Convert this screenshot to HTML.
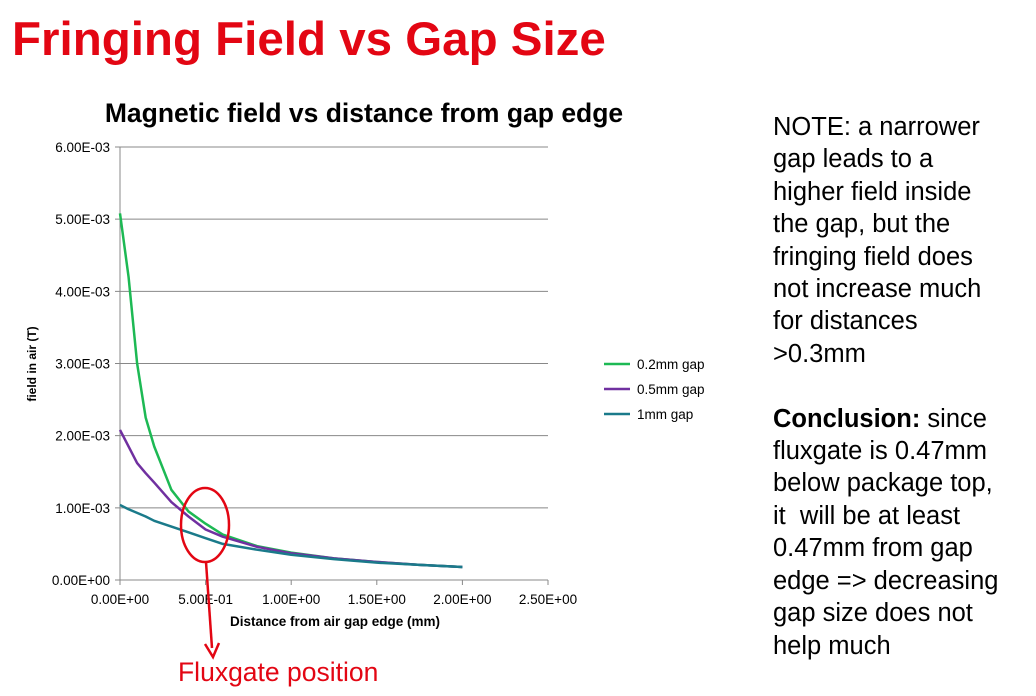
<!DOCTYPE html>
<html><head><meta charset="utf-8"><style>
body{margin:0;width:1036px;height:696px;background:#fff;overflow:hidden;font-family:"Liberation Sans",Arial,sans-serif;position:relative}
#h{position:absolute;left:12px;top:12px;font-size:47.5px;font-weight:bold;color:#e30613;margin:0}
#note{position:absolute;left:773px;top:111px;font-size:25.5px;line-height:32.4px;color:#000;width:262px;white-space:nowrap}
</style></head><body>
<h1 id="h">Fringing Field vs Gap Size</h1>
<svg id="c" width="1036" height="696" style="position:absolute;left:0;top:0"></svg>
<div id="note">NOTE: a narrower<br>gap leads to a<br>higher field inside<br>the gap, but the<br>fringing field does<br>not increase much<br>for distances<br>&gt;0.3mm<br><br><b>Conclusion:</b> since<br>fluxgate is 0.47mm<br>below package top,<br>it&nbsp; will be at least<br>0.47mm from gap<br>edge =&gt; decreasing<br>gap size does not<br>help much</div>
<script>
const xs=[0,0.05,0.1,0.15,0.2,0.3,0.4,0.5,0.6,0.8,1.0,1.25,1.5,1.75,2.0];
const g02=[5.08,4.2,3.0,2.25,1.85,1.25,0.95,0.78,0.63,0.47,0.38,0.3,0.25,0.21,0.18];
const g05=[2.08,1.85,1.62,1.48,1.35,1.08,0.88,0.7,0.6,0.46,0.37,0.3,0.25,0.21,0.18];
const g1=[1.04,0.98,0.93,0.88,0.82,0.74,0.66,0.58,0.5,0.42,0.35,0.29,0.24,0.21,0.18];
const xTicks=["0.00E+00","5.00E-01","1.00E+00","1.50E+00","2.00E+00","2.50E+00"];
const yTicks=["0.00E+00","1.00E-03","2.00E-03","3.00E-03","4.00E-03","5.00E-03","6.00E-03"];
const names=["0.2mm gap","0.5mm gap","1mm gap"];
const colors=["#1db954","#7030a0","#1a7a8a"];
const svg=document.getElementById('c');const NS="http://www.w3.org/2000/svg";
function el(t,a,txt){const e=document.createElementNS(NS,t);for(const k in a)e.setAttribute(k,a[k]);if(txt!=null)e.textContent=txt;svg.appendChild(e);return e;}
const X=v=>120+v*171.2, Y=v=>580-v*72.17;
yTicks.forEach((t,i)=>{const y=Y(i);
 const l=el('line',{x1:115,x2:548,y1:y,y2:y,stroke:'#888','stroke-width':1});
 
 const tx=el('text',{x:110,y:y+5,'font-size':13.5,'text-anchor':'end',fill:'#000'},t);
 });
el('line',{x1:120,x2:120,y1:147,y2:580,stroke:'#888'});
xTicks.forEach((t,i)=>{const x=X(i*0.5);
 const l=el('line',{x1:x,x2:x,y1:580,y2:585,stroke:'#888'});
 
 const tx=el('text',{x:x,y:604,'font-size':13.5,'text-anchor':'middle',fill:'#000'},t);
 });
[g02,g05,g1].forEach((s,k)=>{
 const p=el('polyline',{points:s.map((v,i)=>X(xs[i])+','+Y(v)).join(' '),fill:'none',stroke:colors[k],'stroke-width':2.5,'stroke-linejoin':'round'});
 
 const ly=364+k*25;
 const ll=el('line',{x1:604,x2:630,y1:ly,y2:ly,stroke:colors[k],'stroke-width':2.5});
 
 const lt=el('text',{x:637,y:ly+5,'font-size':13.5,fill:'#000'},names[k]);
 });
const tt=el('text',{x:364,y:122,'font-size':26.5,'font-weight':'bold','text-anchor':'middle'},'Magnetic field vs distance from gap edge');

const xt=el('text',{x:335,y:626,'font-size':13.5,'font-weight':'bold','text-anchor':'middle'},'Distance from air gap edge (mm)');

const yt=el('text',{x:0,y:0,'font-size':12,'font-weight':'bold','text-anchor':'middle',transform:'translate(36,364) rotate(-90)'},'field in air (T)');

const ell=el('ellipse',{cx:205,cy:525,rx:24,ry:37,fill:'none',stroke:'#e30613','stroke-width':2.5});

const ar=el('line',{x1:206,y1:562,x2:212,y2:648,stroke:'#e30613','stroke-width':2.5});

const ah=el('polyline',{points:'205,644 213,657 219,643',fill:'none',stroke:'#e30613','stroke-width':2.5});

const ft=el('text',{x:178,y:681,'font-size':26.5,fill:'#e30613'},'Fluxgate position');

</script>
</body></html>
